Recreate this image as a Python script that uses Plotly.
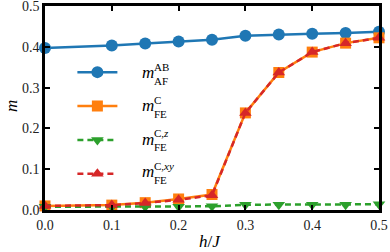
import plotly.graph_objects as go

h_over_J = [0.0, 0.1, 0.15, 0.2, 0.25, 0.3, 0.35, 0.4, 0.45, 0.5]
m_AF_AB = [0.397, 0.403, 0.408, 0.413, 0.417, 0.427, 0.430, 0.432, 0.434, 0.437]
m_FE_C = [0.010, 0.012, 0.018, 0.027, 0.038, 0.238, 0.337, 0.387, 0.409, 0.422]
m_FE_Cz = [0.008, 0.008, 0.008, 0.008, 0.009, 0.013, 0.013, 0.013, 0.013, 0.014]
m_FE_Cxy = [0.010, 0.012, 0.017, 0.025, 0.036, 0.238, 0.337, 0.387, 0.409, 0.422]

x_ticks = [0.0, 0.1, 0.2, 0.3, 0.4, 0.5]
y_ticks = [0.0, 0.1, 0.2, 0.3, 0.4, 0.5]

FONT = "Liberation Serif"
BLUE, ORANGE, GREEN, RED = "#1f77b4", "#ff7f0e", "#2ca02c", "#d62728"

fig = go.Figure()
fig.add_trace(go.Scatter(x=h_over_J, y=m_AF_AB, mode="lines+markers", name=" ", legendgroup="a",
                         line=dict(color=BLUE, width=2.5),
                         marker=dict(symbol="circle", size=12, color=BLUE), cliponaxis=False))
fig.add_trace(go.Scatter(x=h_over_J, y=m_FE_C, mode="lines+markers", name=" ", legendgroup="b",
                         line=dict(color=ORANGE, width=2.5),
                         marker=dict(symbol="square", size=11, color=ORANGE), cliponaxis=False))
fig.add_trace(go.Scatter(x=h_over_J, y=m_FE_Cz, mode="lines+markers", name=" ", legendgroup="c",
                         line=dict(color=GREEN, width=2.5, dash="6px,4px"),
                         marker=dict(symbol="triangle-down", size=11, color=GREEN), cliponaxis=False))
fig.add_trace(go.Scatter(x=h_over_J, y=m_FE_Cxy, mode="lines+markers", name=" ", legendgroup="d",
                         line=dict(color=RED, width=2.5, dash="6px,4px"),
                         marker=dict(symbol="triangle-up", size=11, color=RED), cliponaxis=False))

axis_common = dict(showline=True, linecolor="black", linewidth=2.5, mirror="allticks",
                   ticks="inside", ticklen=5, tickwidth=1.5, tickcolor="black",
                   showgrid=False, zeroline=False, automargin=False, ticklabeloverflow="allow",
                   tickfont=dict(family=FONT, size=14, color="#222"))

fig.update_xaxes(range=[0, 0.5], tickvals=x_ticks, ticktext=[f"{v:.1f}" for v in x_ticks], **axis_common)
fig.update_yaxes(range=[0, 0.5], tickvals=y_ticks, ticktext=[f"{v:.1f}" for v in y_ticks], **axis_common)

annotations = [
    dict(x=-0.099, y=0.51, xref="paper", yref="paper", text="<i>m</i>", showarrow=False, textangle=-90,
         xanchor="center", yanchor="middle", font=dict(family=FONT, size=17, color="black")),
    dict(x=0.494, y=-0.152, xref="paper", yref="paper", text="<i>h</i>/<i>J</i>", showarrow=False,
         xanchor="center", yanchor="middle", font=dict(family=FONT, size=17, color="black")),
]

labels = [("AB", "AF"), ("C", "FE"), ("C,<i>z</i>", "FE"), ("C,<i>xy</i>", "FE")]
label_y = [0.674, 0.512, 0.348, 0.188]  # paper coordinates of legend label rows
for (sup, sub), yy in zip(labels, label_y):
    annotations.append(dict(x=0.285, y=yy, xref="paper", yref="paper", text="<i>m</i>", showarrow=False,
                            xanchor="left", yanchor="middle", font=dict(family=FONT, size=17, color="black")))
    annotations.append(dict(x=0.32, y=yy + 0.028, xref="paper", yref="paper", text=sup, showarrow=False,
                            xanchor="left", yanchor="middle", font=dict(family=FONT, size=11, color="black")))
    annotations.append(dict(x=0.32, y=yy - 0.04, xref="paper", yref="paper", text=sub, showarrow=False,
                            xanchor="left", yanchor="middle", font=dict(family=FONT, size=11, color="black")))

fig.update_layout(
    width=390, height=252,
    margin=dict(l=45, r=11, t=6, b=42),
    paper_bgcolor="white", plot_bgcolor="white",
    showlegend=True,
    legend=dict(x=0.082, y=0.781, xanchor="left", yanchor="top", bgcolor="rgba(0,0,0,0)",
                font=dict(family=FONT, size=23), itemwidth=40, tracegroupgap=1),
    annotations=annotations,
)

fig.write_html("out.html", config={"displayModeBar": False},
               post_script="document.body.style.margin='0';document.body.style.padding='0';")
